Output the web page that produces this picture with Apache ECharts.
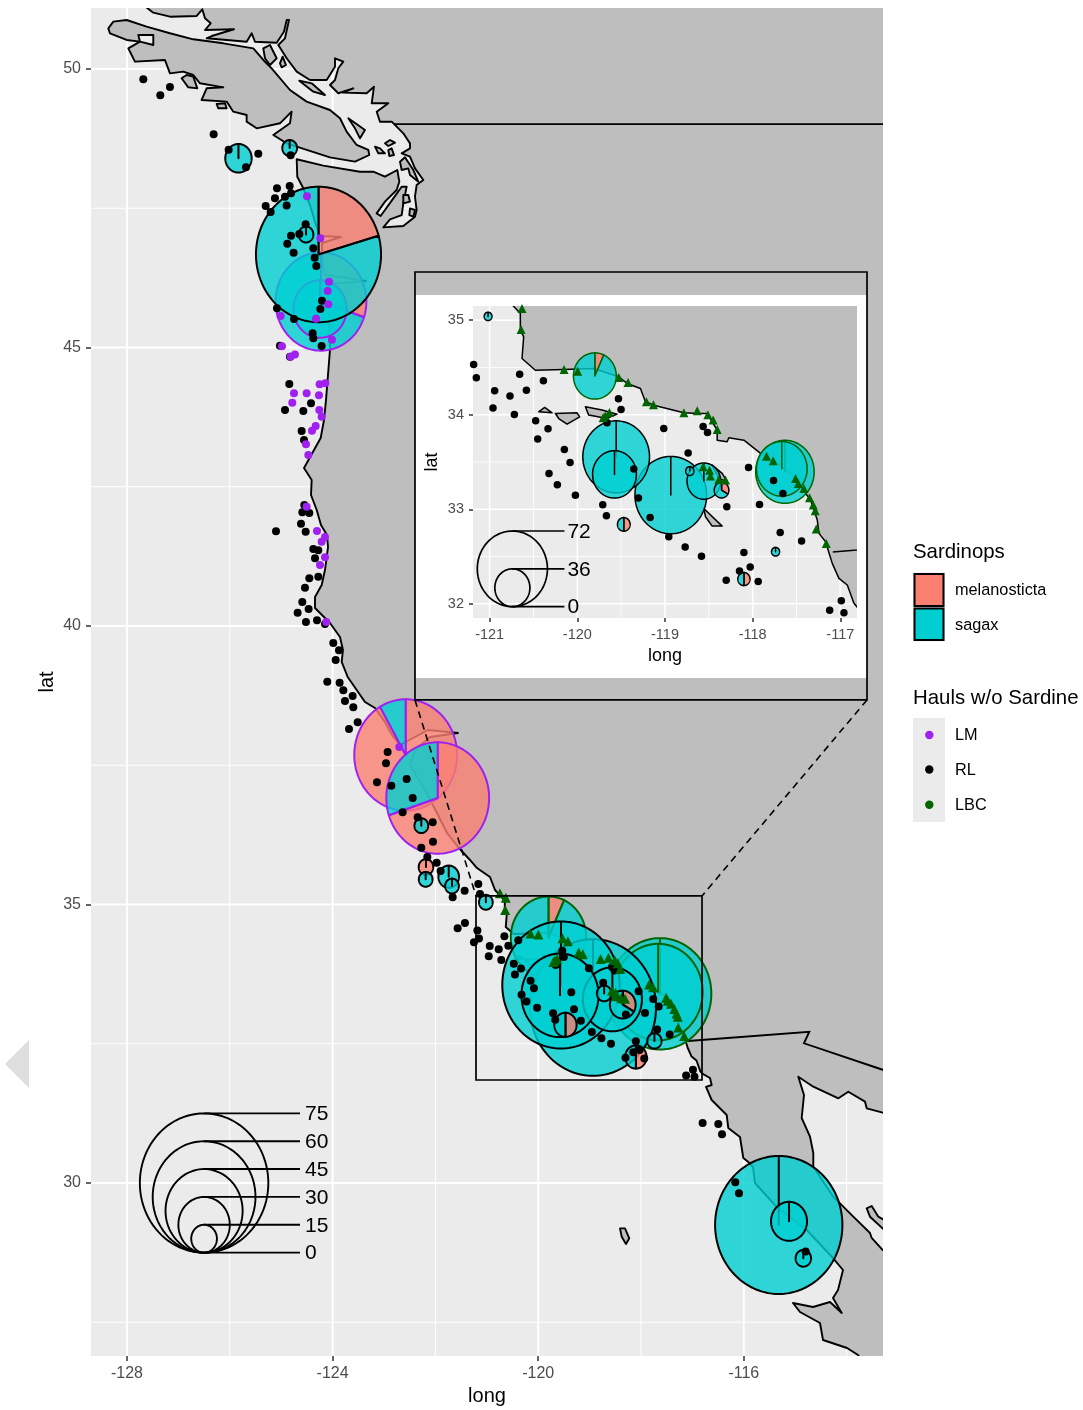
<!DOCTYPE html>
<html><head><meta charset="utf-8">
<style>html,body{margin:0;padding:0;background:#fff}#c{width:1083px;height:1410px}</style>
<script src="https://cdn.jsdelivr.net/npm/echarts@6/dist/echarts.min.js"></script>
</head><body><div id="c"></div>
<script>
const FONT = 'Liberation Sans';
const LAND = '#BEBEBE', PANEL = '#EBEBEB', SALMON = '#FA8072', TEAL = '#00CED1';
const PURPLE = '#A020F0', GREEN = '#006400';

// --- axes
const mainLongTicks = [-128, -124, -120, -116];
const mainLongMinor = [-126, -122, -118, -114];
const mainLatTicks = [50, 45, 40, 35, 30];
const mainLatMinor = [47.5, 42.5, 37.5, 32.5, 27.5];
const insetLongTicks = [-121, -120, -119, -118, -117];
const insetLongMinor = [-120.5, -119.5, -118.5, -117.5];
const insetLatTicks = [32, 33, 34, 35];
const insetLatMinor = [32.5, 33.5, 34.5];
const mainExtent = {x: [-128.70, -113.292], y: [26.894, 51.095]};
const insetExtent = {x: [-121.19, -116.81], y: [31.85, 35.15]};

// --- pies: long, lat, melanosticta count, sagax count, gear
const pieGearColors = {LM: PURPLE, RL: '#000000', LBC: GREEN};
const pieLong = [-119.8,-117.632,-117.668,-124.226,-124.245,-122.578,-121.955,-124.274,-125.831,-124.835,-124.517,-122.274,-122.183,-122.189,-121.741,-121.677,-121.018,-118.934,-119.557,-118.557,-119.576,-118.717,-118.355,-119.47,-118.1,-117.739,-115.32,-115.12,-114.842];
const pieLat = [34.41,33.396,33.428,45.826,45.691,37.684,36.912,46.67,48.397,48.582,47.029,36.415,35.673,35.452,35.499,35.332,35.04,33.15,33.555,33.298,33.369,33.404,33.203,32.84,32.262,32.551,29.246,29.312,28.648];
const pieMel = [3,0,0,16,0,55,42,15,0,0,0,0,8.5,0,0,0,0,0,0,0,0,0,5,6.5,6.25,0,0,0,0];
const pieSag = [41,60,52,37,31,5,18,58,15.4,8.6,8.6,8,0,8,12,8,8,73.6,68.5,34.5,45,8.5,10,6.5,6.25,8.3,74.3,21,9];
const pieGear = ['LBC','LBC','LBC','LM','LM','LM','LM','RL','RL','RL','RL','RL','RL','RL','RL','RL','RL','RL','RL','RL','RL','RL','RL','RL','RL','RL','RL','RL','RL'];

// --- size legends
const mainSizeValues = [75, 60, 45, 30, 15, 0];
const insetSizeValues = [72, 36, 0];

// --- hauls without sardine
const rlHauls = [[-127.682,49.815],[-127.352,49.527],[-127.164,49.677],[-126.314,48.827],[-126.022,48.552],[-125.685,48.235],[-125.445,48.48],[-124.816,48.45],[-125.082,47.858],[-124.835,47.9],[-125.121,47.678],[-124.926,47.708],[-124.809,47.768],[-124.894,47.547],[-125.302,47.541],[-125.205,47.433],[-124.809,47.008],[-124.647,47.038],[-124.524,47.211],[-124.881,46.864],[-124.758,46.703],[-124.375,46.781],[-124.349,46.613],[-124.317,46.463],[-124.206,45.841],[-124.238,45.691],[-125.082,45.703],[-124.751,45.512],[-124.388,45.255],[-124.375,45.165],[-124.213,45.027],[-125.024,45.033],[-124.829,44.836],[-124.842,44.345],[-124.42,44.0],[-124.926,43.878],[-124.569,43.86],[-124.602,43.5],[-124.556,43.339],[-124.55,42.172],[-124.589,42.04],[-124.453,42.028],[-124.615,41.837],[-124.524,41.693],[-125.101,41.699],[-124.375,41.382],[-124.278,41.358],[-124.342,41.214],[-124.453,40.855],[-124.278,40.885],[-124.537,40.688],[-124.589,40.43],[-124.466,40.305],[-124.68,40.239],[-124.518,40.071],[-124.303,40.101],[-124.148,40.036],[-123.986,39.694],[-123.875,39.563],[-123.94,39.389],[-124.103,39.0],[-123.863,38.982],[-123.791,38.845],[-123.61,38.743],[-123.759,38.653],[-123.597,38.539],[-123.512,38.27],[-123.681,38.15],[-122.929,37.737],[-122.961,37.534],[-123.136,37.193],[-122.857,37.133],[-122.559,37.253],[-122.442,36.912],[-122.637,36.654],[-122.345,36.565],[-122.053,36.475],[-122.047,36.128],[-122.274,36.02],[-122.157,35.852],[-121.975,35.751],[-121.898,35.601],[-121.431,35.248],[-121.664,35.128],[-121.165,35.368],[-121.132,35.188],[-121.425,34.667],[-121.567,34.572],[-121.25,34.32],[-121.183,34.531],[-121.152,34.39],[-120.943,34.253],[-120.658,34.429],[-120.581,34.26],[-120.768,34.197],[-120.962,34.07],[-120.718,34.003],[-120.387,34.359],[-120.475,33.936],[-120.334,33.851],[-120.452,33.742],[-120.148,33.633],[-120.083,33.495],[-120.323,33.379],[-120.228,33.259],[-120.022,33.147],[-119.71,33.048],[-119.668,32.932],[-119.531,34.168],[-119.501,34.056],[-119.661,33.915],[-119.356,33.425],[-119.303,33.118],[-119.17,32.914],[-119.014,33.855],[-118.736,33.594],[-118.957,32.71],[-118.77,32.6],[-118.584,32.502],[-118.565,33.876],[-118.515,33.813],[-118.295,33.027],[-118.047,33.443],[-117.762,33.305],[-117.655,33.168],[-117.922,33.051],[-117.686,32.755],[-117.442,32.664],[-118.1,32.544],[-118.028,32.389],[-118.15,32.347],[-118.302,32.248],[-117.937,32.237],[-117.122,31.931],[-116.989,32.033],[-116.959,31.906],[-116.801,31.078],[-116.496,31.06],[-116.424,30.874],[-116.165,30.013],[-116.094,29.815],[-114.797,28.768]];
const lmHauls = [[-124.498,47.714],[-124.239,46.96],[-124.07,46.182],[-124.096,46.015],[-124.083,45.775],[-124.323,45.518],[-125.011,45.566],[-124.012,45.141],[-124.985,45.021],[-124.732,44.872],[-124.816,44.836],[-124.252,44.339],[-124.142,44.357],[-124.751,44.177],[-124.505,44.177],[-124.265,44.141],[-124.784,44.01],[-124.258,43.878],[-124.213,43.758],[-124.329,43.59],[-124.4,43.506],[-124.518,43.261],[-124.472,43.07],[-124.505,42.142],[-124.303,41.705],[-124.148,41.597],[-124.213,41.514],[-124.148,41.232],[-124.245,41.095],[-124.122,40.071],[-122.702,37.827]];
const lbcHauls = [[-120.744,35.2],[-120.631,35.123],[-120.642,34.901],[-120.151,34.478],[-119.996,34.461],[-119.527,34.394],[-119.421,34.341],[-119.212,34.137],[-119.132,34.105],[-118.785,34.02],[-118.633,34.042],[-118.511,34.0],[-118.451,33.943],[-118.405,33.844],[-119.706,33.968],[-119.68,33.989],[-119.634,34.024],[-117.842,33.562],[-117.766,33.513],[-117.511,33.326],[-117.48,33.273],[-117.416,33.22],[-117.351,33.122],[-117.309,33.044],[-117.286,32.984],[-117.275,32.791],[-117.161,32.639],[-118.565,33.45],[-118.492,33.414],[-118.481,33.351],[-118.386,33.316],[-118.31,33.309]];

// --- coastline (long, lat)
const coastBC = [[-127.683,51.149],[-127.488,51.011],[-127.163,50.939],[-126.644,50.952],[-126.535,51.072],[-126.482,50.91],[-126.372,50.82],[-126.482,50.7],[-125.918,50.713],[-126.352,50.592],[-126.449,50.551],[-125.671,50.49],[-125.574,50.641],[-125.51,50.49],[-125.088,50.472],[-124.946,50.67],[-124.893,50.88],[-124.848,50.88],[-124.926,50.551],[-125.056,50.431],[-124.893,50.192],[-124.698,49.952],[-124.44,49.803],[-124.115,49.803],[-123.953,50.041],[-123.953,50.192],[-123.792,50.131],[-123.889,50.013],[-123.953,49.803],[-124.051,49.713],[-123.889,49.564],[-123.597,49.653],[-123.798,49.575],[-123.337,49.564],[-123.195,49.682],[-123.239,49.384],[-122.916,49.384],[-123.142,49.233],[-123.078,49.054],[-122.85,49.054],[-122.624,48.845],[-122.494,48.665],[-122.494,48.575],[-122.656,48.486]];
const coastPuget = [[-122.494,48.426],[-122.397,48.216],[-122.235,48.007],[-122.365,47.917],[-122.397,47.708],[-122.365,47.468],[-122.397,47.349],[-122.624,47.181],[-123.013,47.157],[-122.883,47.301],[-122.656,47.378],[-122.624,47.588],[-122.559,47.887],[-122.656,47.887],[-122.818,47.678],[-123.065,47.36],[-123.143,47.408],[-122.981,47.618],[-122.754,47.827],[-122.702,47.977],[-122.741,48.186],[-122.981,48.067],[-123.208,48.156],[-123.467,48.156],[-124.181,48.264],[-124.698,48.379]];
const coastOregon = [[-124.687,48.066],[-124.57,47.858],[-124.44,47.558],[-124.323,47.199],[-124.245,47.002],[-123.837,46.984],[-124.206,46.876],[-124.206,46.535],[-124.148,46.302],[-123.35,46.194],[-124.089,46.14],[-124.07,45.673],[-124.051,44.955],[-124.128,44.057],[-124.167,43.698],[-124.232,43.375],[-124.556,42.837],[-124.407,42.621],[-124.42,42.352],[-124.309,42.083],[-124.226,41.813],[-124.109,41.634],[-124.089,41.418],[-124.148,41.005],[-124.212,40.736],[-124.342,40.521],[-124.342,40.323],[-124.051,40.054],[-123.856,39.803],[-123.798,39.569],[-123.823,39.354],[-123.706,39.084],[-123.37,38.636],[-123.175,38.528],[-122.981,38.276],[-122.844,38.043],[-122.689,37.864]];
const coastCalifornia = [[-122.144,38.133],[-121.56,38.079],[-122.105,38.007],[-122.397,37.774],[-122.494,37.504],[-122.202,37.056],[-121.969,36.643],[-121.774,36.284],[-121.56,36.032],[-121.327,35.799],[-121.191,35.655],[-120.938,35.494],[-120.84,35.26],[-120.65,35.07],[-120.65,34.894],[-120.612,34.824],[-120.631,34.595],[-120.479,34.471],[-120.155,34.478],[-119.813,34.489],[-119.527,34.401],[-119.432,34.33],[-119.28,34.278],[-119.223,34.137],[-119.128,34.101],[-118.785,34.02],[-118.633,34.013],[-118.519,34.013],[-118.405,33.837],[-118.405,33.731],[-118.291,33.714],[-118.272,33.756],[-118.1,33.731],[-117.91,33.591],[-117.758,33.52],[-117.53,33.344],[-117.34,33.097],[-117.263,32.886],[-117.244,32.745],[-117.168,32.657],[-117.13,32.541],[-117.092,32.428],[-117.016,32.269],[-116.921,32.199],[-116.845,32.005],[-116.807,31.963]];
const coastBaja = [[-116.658,31.885],[-116.625,31.759],[-116.735,31.724],[-116.625,31.49],[-116.333,31.221],[-116.302,30.987],[-116.074,30.826],[-116.01,30.449],[-115.912,30.377],[-115.821,30.287],[-115.782,30.0],[-115.36,29.569],[-114.776,29.156],[-114.265,28.653],[-114.07,28.438],[-114.167,28.079],[-114.265,27.935],[-114.095,27.666],[-114.323,27.864],[-114.654,27.774],[-115.043,27.846],[-114.907,27.684],[-114.518,27.487],[-114.459,27.181],[-113.992,27.038],[-113.778,26.912],[-113.681,26.768],[-113.0,26.7]];
const coastGulf = [[-113.0,28.6],[-113.297,28.797],[-113.512,29.013],[-113.545,29.102],[-113.87,29.395],[-114.259,29.754],[-114.648,30.293],[-114.648,30.539],[-114.712,30.831],[-114.874,31.167],[-114.829,31.58],[-114.94,31.908],[-114.648,31.729],[-114.16,31.521],[-113.967,31.639],[-113.642,31.46],[-113.609,31.341],[-113.297,31.262],[-113.0,31.2],[-113.0,51.3],[-127.9,51.3]];
const vancouverIsland = [[-128.363,50.73],[-128.266,50.85],[-128.007,50.88],[-127.618,50.76],[-127.164,50.641],[-126.71,50.533],[-126.126,50.461],[-125.542,50.371],[-125.348,50.162],[-125.186,50.012],[-124.829,49.623],[-124.505,49.414],[-124.051,49.264],[-123.856,49.115],[-123.727,48.875],[-123.532,48.636],[-123.305,48.546],[-123.286,48.456],[-123.564,48.337],[-124.051,48.414],[-124.699,48.606],[-124.894,48.666],[-125.153,48.815],[-124.829,49.025],[-124.797,49.234],[-125.023,49.025],[-125.477,48.935],[-125.672,49.055],[-125.672,49.174],[-125.931,49.234],[-126.061,49.414],[-126.548,49.444],[-126.45,49.653],[-126.126,49.671],[-126.58,49.743],[-126.71,49.892],[-126.904,49.952],[-127.164,49.922],[-127.261,50.162],[-127.845,50.132],[-127.974,50.371],[-127.747,50.491],[-128.007,50.521],[-128.331,50.641]];
const holes = [[[-127.78,50.611],[-127.488,50.611],[-127.488,50.431],[-127.747,50.491]]];
const islands = [
 [[-126.937,49.833],[-126.839,49.892],[-126.71,49.863],[-126.632,49.653],[-126.807,49.671]],
 [[-126.256,49.372],[-126.094,49.384],[-126.061,49.294],[-126.223,49.294]],
 [[-124.647,49.791],[-124.407,49.743],[-124.148,49.533],[-124.375,49.593]],
 [[-125.348,50.371],[-125.218,50.431],[-125.088,50.192],[-125.218,50.072],[-125.315,50.192]],
 [[-125.024,50.102],[-124.972,50.222],[-124.907,50.072],[-124.991,50.03]],
 [[-123.694,49.115],[-123.37,48.905],[-123.467,48.755],[-123.564,48.935]],
 [[-122.981,48.665],[-122.883,48.725],[-122.786,48.677],[-122.916,48.617]],
 [[-123.175,48.605],[-123.078,48.575],[-122.981,48.486],[-123.11,48.486]],
 [[-122.916,48.545],[-122.851,48.575],[-122.806,48.456],[-122.896,48.438]],
 [[-122.689,48.336],[-122.592,48.414],[-122.429,48.186],[-122.332,47.977],[-122.494,48.097],[-122.527,48.216],[-122.656,48.186]],
 [[-122.624,47.737],[-122.527,47.737],[-122.494,47.618],[-122.624,47.588]],
 [[-122.494,47.498],[-122.397,47.468],[-122.429,47.349],[-122.507,47.378]],
 [[-120.25,34.013],[-120.003,34.02],[-119.973,33.978],[-120.117,33.9],[-120.212,33.96]],
 [[-120.441,34.031],[-120.372,34.077],[-120.288,34.02]],
 [[-119.908,34.084],[-119.718,34.049],[-119.546,34.006],[-119.661,33.961],[-119.87,33.996]],
 [[-118.557,33.009],[-118.348,32.822],[-118.462,32.822],[-118.538,32.921]],
 [[-118.462,33.467],[-118.348,33.379],[-118.291,33.291],[-118.386,33.326]],
 [[-118.409,29.186],[-118.311,29.186],[-118.228,29.007],[-118.292,28.905],[-118.375,29.036]],
 [[-113.609,29.546],[-113.512,29.587],[-113.383,29.395],[-113.2,29.3],[-113.2,29.1],[-113.545,29.395]]
];
const canadaBorder = [[-122.786,49.01],[-113.0,49.01]];
const mexicoBorder = [[-117.086,32.549],[-114.726,32.716],[-114.829,32.508],[-113.286,32.029],[-113.0,31.92]];

// --- inset frame on the map
const zoomBox = {x: [-121.21, -116.813], y: [31.849, 35.153]};
const insetFrame = {x: [-122.397, -113.603], y: [38.672, 46.355]};
const insetPaper = {x: [-122.397, -113.61], y: [39.066, 45.943]};
const connectors = [[[-122.397,38.672],[-121.21,35.153]],[[-113.603,38.672],[-116.813,35.153]]];

const mainland = [].concat(coastBC, coastPuget, coastOregon, coastCalifornia, coastBaja, coastGulf);
const landShapes = [mainland, vancouverIsland].concat(islands);

function panelSeries(ai, z, extent, xMajor, xMinor, yMajor, yMinor, wMajor, wMinor) {
  return {type:'custom', xAxisIndex:ai, yAxisIndex:ai, z, clip:true, silent:true, data:[[extent.x[0],extent.y[0]]],
    renderItem(p, api){
      const a = api.coord([extent.x[0],extent.y[1]]), b = api.coord([extent.x[1],extent.y[0]]);
      const kids = [{type:'rect', shape:{x:a[0],y:a[1],width:b[0]-a[0],height:b[1]-a[1]}, style:{fill:PANEL}}];
      const v = (vals,w)=>vals.forEach(x=>{const q=api.coord([x,extent.y[0]]),r=api.coord([x,extent.y[1]]);
        kids.push({type:'line',shape:{x1:q[0],y1:q[1],x2:r[0],y2:r[1]},style:{stroke:'#fff',lineWidth:w}});});
      const h = (vals,w)=>vals.forEach(y=>{const q=api.coord([extent.x[0],y]),r=api.coord([extent.x[1],y]);
        kids.push({type:'line',shape:{x1:q[0],y1:q[1],x2:r[0],y2:r[1]},style:{stroke:'#fff',lineWidth:w}});});
      v(xMinor,wMinor);h(yMinor,wMinor);v(xMajor,wMajor);h(yMajor,wMajor);
      return {type:'group',children:kids};
    }};
}
function landSeries(ai, z, lw) {
  return {type:'custom', xAxisIndex:ai, yAxisIndex:ai, z, clip:true, silent:true, data:[[-120,40]],
    renderItem(p, api){
      const kids = [];
      landShapes.forEach(s=>kids.push({type:'polygon',shape:{points:s.map(c=>api.coord(c))},style:{fill:LAND,stroke:'#000',lineWidth:lw,lineJoin:'round'}}));
      holes.forEach(s=>kids.push({type:'polygon',shape:{points:s.map(c=>api.coord(c))},style:{fill:PANEL,stroke:'#000',lineWidth:lw,lineJoin:'round'}}));
      [canadaBorder,mexicoBorder].forEach(s=>kids.push({type:'polyline',shape:{points:s.map(c=>api.coord(c))},style:{fill:null,stroke:'#000',lineWidth:lw}}));
      return {type:'group',children:kids};
    }};
}
function pieSeries(ai, z, degPerCount, lw) {
  return {type:'custom', xAxisIndex:ai, yAxisIndex:ai, z, clip:true, silent:true,
    data: pieLong.map((x,i)=>[x,pieLat[i],pieMel[i],pieSag[i],i]), encode:{x:0,y:1},
    renderItem(p, api){
      const lon=api.value(0), lat=api.value(1), mel=api.value(2), sag=api.value(3), i=api.value(4);
      const n=mel+sag, r=n/degPerCount, stroke=pieGearColors[pieGear[i]], kids=[];
      const sector=(a0,a1,fill)=>{
        const pts=[api.coord([lon,lat])], steps=Math.max(2,Math.ceil((a1-a0)/(Math.PI/72)));
        for(let k=0;k<=steps;k++){const t=a0+(a1-a0)*k/steps;pts.push(api.coord([lon+r*Math.sin(t),lat+r*Math.cos(t)]));}
        kids.push({type:'polygon',shape:{points:pts},style:{fill,stroke,lineWidth:lw,lineJoin:'round'}});
      };
      const split=2*Math.PI*mel/n;
      if(mel>0) sector(0,split,'rgba(250,128,114,0.8)');
      if(sag>0) sector(split,2*Math.PI,'rgba(0,206,209,0.8)');
      return {type:'group',children:kids};
    }};
}
function dotSeries(ai, z, data, color, symbol, size) {
  return {type:'scatter', xAxisIndex:ai, yAxisIndex:ai, z, data, symbol, symbolSize:size, silent:true, clip:true,
    itemStyle:{color,opacity:1}};
}
function sizeLegendSeries(ai, z, values, cx, baseLat, endLon, degPerCount, lw, labelGap) {
  return {type:'custom', xAxisIndex:ai, yAxisIndex:ai, z, clip:false, silent:true, data:values.map(v=>[v,baseLat]),
    renderItem(p, api){
      const v=api.value(0), r=v/degPerCount, kids=[], pts=[];
      if(v>0){
        for(let k=0;k<=96;k++){const t=2*Math.PI*k/96;pts.push(api.coord([cx+r*Math.sin(t),baseLat+r+r*Math.cos(t)]));}
        kids.push({type:'polyline',shape:{points:pts},style:{fill:null,stroke:'#000',lineWidth:lw}});
      }
      const a=api.coord([cx,baseLat+2*r]), b=api.coord([endLon,baseLat+2*r]);
      kids.push({type:'line',shape:{x1:a[0],y1:a[1],x2:b[0],y2:b[1]},style:{stroke:'#000',lineWidth:lw}});
      kids.push({type:'text',style:{text:String(v),x:b[0]+labelGap,y:b[1]+1,fill:'#000',fontSize:21,fontFamily:FONT,verticalAlign:'middle',align:'left'}});
      return {type:'group',children:kids};
    }};
}
const frameSeries = {type:'custom', xAxisIndex:0, yAxisIndex:0, z:8, clip:false, silent:true, data:[[-120,35]],
  renderItem(p, api){
    const kids=[];
    const a=api.coord([zoomBox.x[0],zoomBox.y[1]]), b=api.coord([zoomBox.x[1],zoomBox.y[0]]);
    kids.push({type:'rect',shape:{x:a[0],y:a[1],width:b[0]-a[0],height:b[1]-a[1]},style:{fill:null,stroke:'#000',lineWidth:1.7}});
    connectors.forEach(s=>{const q=api.coord(s[0]),r=api.coord(s[1]);
      kids.push({type:'line',shape:{x1:q[0],y1:q[1],x2:r[0],y2:r[1]},style:{stroke:'#000',lineWidth:1.6,lineDash:[7,5]}});});
    return {type:'group',children:kids};
  }};
const insetBoxSeries = {type:'custom', xAxisIndex:0, yAxisIndex:0, z:10, clip:false, silent:true, data:[[-118,42]],
  renderItem(p, api){
    const a=api.coord([insetPaper.x[0],insetPaper.y[1]]), b=api.coord([insetPaper.x[1],insetPaper.y[0]]);
    const c=api.coord([insetFrame.x[0],insetFrame.y[1]]), d=api.coord([insetFrame.x[1],insetFrame.y[0]]);
    return {type:'group',children:[
      {type:'rect',shape:{x:a[0],y:a[1],width:b[0]-a[0],height:b[1]-a[1]},style:{fill:'#fff'}},
      {type:'rect',shape:{x:c[0],y:c[1],width:d[0]-c[0],height:d[1]-c[1]},style:{fill:null,stroke:'#000',lineWidth:1.7}}
    ]};
  }};

function axis(ext, pos, ticks, gridIndex, name, opts) {
  return {type:'value', gridIndex, position:pos, min:ext[0], max:ext[1], scale:true,
    name, nameLocation:'middle', nameGap:opts.nameGap, nameMoveOverlap:false, nameTextStyle:{color:'#000',fontSize:opts.nameSize,fontFamily:FONT},
    z:opts.z, silent:true, splitLine:{show:false}, minorSplitLine:{show:false},
    axisLine:{show:false},
    axisTick:{show:true,length:opts.tick,customValues:ticks,lineStyle:{color:'#333',width:1.5}},
    axisLabel:{show:true,customValues:ticks,color:'#4D4D4D',fontSize:opts.labelSize,fontFamily:FONT,margin:opts.margin,hideOverlap:false}
  };
}
const txt=(text,x,y,size)=>({type:'text',z:50,style:{text,x,y,fill:'#000',fontSize:size,fontFamily:FONT,verticalAlign:'middle',align:'left'}});
const chart = echarts.init(document.getElementById('c'), null, {renderer:'canvas', width:1083, height:1410});
chart.setOption({
  animation:false, backgroundColor:'#fff',
  textStyle:{fontFamily:FONT},
  grid:[{left:91,top:8,width:792,height:1348,show:false,outerBoundsMode:'none'},{left:473,top:306,width:384,height:312,show:false,outerBoundsMode:'none'}],
  xAxis:[
    axis(mainExtent.x,'bottom',mainLongTicks,0,'long',{nameGap:30,nameSize:20,z:0,tick:5,labelSize:16,margin:10}),
    axis(insetExtent.x,'bottom',insetLongTicks,1,'long',{nameGap:29,nameSize:18,z:12,tick:4,labelSize:14.5,margin:9})
  ],
  yAxis:[
    axis(mainExtent.y,'left',mainLatTicks,0,'lat',{nameGap:34,nameSize:20,z:0,tick:5,labelSize:16,margin:10}),
    axis(insetExtent.y,'left',insetLatTicks,1,'lat',{nameGap:32,nameSize:18,z:12,tick:4,labelSize:14.5,margin:9})
  ],
  series:[
    panelSeries(0,1,mainExtent,mainLongTicks,mainLongMinor,mainLatTicks,mainLatMinor,2,1),
    landSeries(0,2,1.9),
    pieSeries(0,3,60,2),
    dotSeries(0,4,rlHauls,'#000','circle',8),
    dotSeries(0,5,lmHauls,PURPLE,'circle',8),
    dotSeries(0,6,lbcHauls,GREEN,'triangle',10),
    sizeLegendSeries(0,7,mainSizeValues,-126.5,28.75,-124.634,60,1.9,5),
    frameSeries, insetBoxSeries,
    panelSeries(1,11,insetExtent,insetLongTicks,insetLongMinor,insetLatTicks,insetLatMinor,1.6,0.8),
    landSeries(1,13,1.5),
    pieSeries(1,14,180,1.5),
    dotSeries(1,15,rlHauls,'#000','circle',7.5),
    dotSeries(1,16,lmHauls,PURPLE,'circle',7.5),
    dotSeries(1,17,lbcHauls,GREEN,'triangle',9),
    sizeLegendSeries(1,18,insetSizeValues,-120.741,31.97,-120.147,180,1.7,3)
  ],
  graphic:{elements:[
    {type:'polygon',z:50,shape:{points:[[29,1040],[5,1064],[29,1088]]},style:{fill:'#DEDEDE'}},
    txt('Sardinops',913,552,20.4),
    {type:'rect',z:50,shape:{x:913,y:572.5,width:32,height:69},style:{fill:PANEL}},
    {type:'rect',z:51,shape:{x:914.5,y:574,width:29,height:32},style:{fill:SALMON,stroke:'#000',lineWidth:2}},
    {type:'rect',z:51,shape:{x:914.5,y:608.5,width:29,height:31.5},style:{fill:TEAL,stroke:'#000',lineWidth:2}},
    txt('melanosticta',955,591,16.3),
    txt('sagax',955,626,16.3),
    txt('Hauls w/o Sardine',913,698,20.4),
    {type:'rect',z:50,shape:{x:913,y:718,width:32,height:104},style:{fill:PANEL}},
    {type:'circle',z:51,shape:{cx:929.3,cy:735,r:4.2},style:{fill:PURPLE}},
    {type:'circle',z:51,shape:{cx:929.3,cy:769.5,r:4.2},style:{fill:'#000'}},
    {type:'circle',z:51,shape:{cx:929.3,cy:804.7,r:4.2},style:{fill:GREEN}},
    txt('LM',955,736,16.3),
    txt('RL',955,771,16.3),
    txt('LBC',955,806,16.3)
  ]}
});
</script></body></html>
